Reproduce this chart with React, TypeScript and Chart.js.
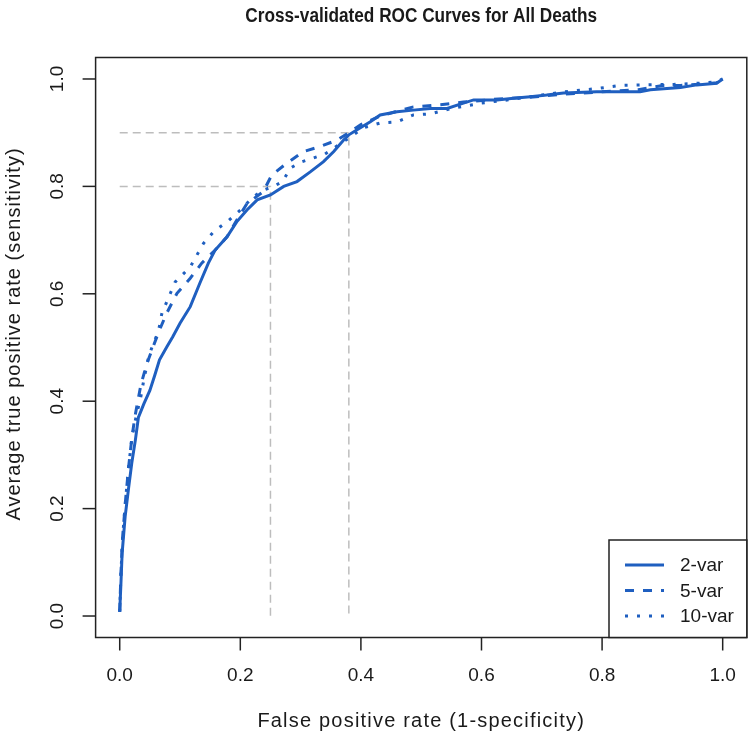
import { useEffect, useRef } from "react";
import { Chart, registerables } from "chart.js";

Chart.register(...registerables);

const chartTitle = "Cross-validated ROC Curves for All Deaths";
const xAxisTitle = "False positive rate (1-specificity)";
const yAxisTitle = "Average true positive rate (sensitivity)";
const tickValues = [0, 0.2, 0.4, 0.6, 0.8, 1.0];
const tickLabels = ["0.0", "0.2", "0.4", "0.6", "0.8", "1.0"];
const seriesNames = ["2-var", "5-var", "10-var"];

const fpr2 = [0, 0.002, 0.004, 0.009, 0.015, 0.02, 0.026, 0.031, 0.04, 0.05, 0.058, 0.066, 0.078, 0.088, 0.1, 0.117, 0.133, 0.147, 0.158, 0.178, 0.194, 0.211, 0.228, 0.25, 0.272, 0.294, 0.316, 0.338, 0.355, 0.371, 0.38, 0.393, 0.415, 0.432, 0.46, 0.487, 0.515, 0.543, 0.57, 0.587, 0.626, 0.653, 0.681, 0.708, 0.736, 0.791, 0.863, 0.88, 0.93, 0.957, 0.99, 1.0];
const tpr2 = [0.008, 0.06, 0.117, 0.185, 0.241, 0.285, 0.328, 0.37, 0.395, 0.42, 0.448, 0.477, 0.501, 0.52, 0.545, 0.576, 0.62, 0.657, 0.681, 0.706, 0.734, 0.756, 0.775, 0.784, 0.8, 0.809, 0.827, 0.846, 0.865, 0.886, 0.896, 0.905, 0.92, 0.933, 0.939, 0.942, 0.945, 0.945, 0.955, 0.961, 0.961, 0.964, 0.967, 0.97, 0.974, 0.976, 0.976, 0.98, 0.984, 0.989, 0.992, 1.0];

const fpr5 = [0, 0.002, 0.005, 0.01, 0.015, 0.02, 0.025, 0.03, 0.035, 0.045, 0.055, 0.065, 0.078, 0.095, 0.117, 0.136, 0.158, 0.178, 0.194, 0.211, 0.238, 0.252, 0.277, 0.305, 0.332, 0.36, 0.38, 0.4, 0.43, 0.46, 0.487, 0.532, 0.57, 0.62, 0.68, 0.74, 0.8, 0.86, 0.9, 0.93, 0.96, 0.99, 1.0];
const tpr5 = [0.008, 0.08, 0.15, 0.22, 0.28, 0.33, 0.37, 0.4, 0.43, 0.47, 0.5, 0.53, 0.564, 0.601, 0.629, 0.657, 0.681, 0.706, 0.737, 0.768, 0.79, 0.821, 0.843, 0.865, 0.874, 0.886, 0.9, 0.915, 0.93, 0.94, 0.948, 0.952, 0.957, 0.962, 0.966, 0.972, 0.976, 0.98, 0.988, 0.988, 0.99, 0.993, 1.0];

const fpr10 = [0, 0.002, 0.005, 0.01, 0.015, 0.02, 0.025, 0.03, 0.034, 0.04, 0.048, 0.056, 0.064, 0.07, 0.078, 0.084, 0.092, 0.117, 0.139, 0.156, 0.178, 0.2, 0.222, 0.238, 0.255, 0.27, 0.283, 0.3, 0.34, 0.38, 0.404, 0.432, 0.46, 0.487, 0.515, 0.55, 0.6, 0.65, 0.7, 0.736, 0.791, 0.83, 0.874, 0.92, 0.96, 0.99, 1.0];
const tpr10 = [0.008, 0.08, 0.15, 0.22, 0.28, 0.33, 0.36, 0.385, 0.402, 0.44, 0.483, 0.508, 0.529, 0.564, 0.585, 0.601, 0.622, 0.65, 0.694, 0.716, 0.734, 0.756, 0.781, 0.793, 0.8, 0.809, 0.834, 0.845, 0.86, 0.89, 0.909, 0.918, 0.92, 0.933, 0.935, 0.945, 0.955, 0.962, 0.97, 0.976, 0.982, 0.988, 0.989, 0.99, 0.992, 0.995, 1.0];

const refFpr = [0.25, 0.38];
const refTpr = [0.8, 0.9];

const BLUE = "#1f5fc0";
const FONT = '"Liberation Sans", Arial, sans-serif';
const dashes = [[], [9, 9], [3, 9]];

const toPoints = (xs: number[], ys: number[]) => xs.map((x, i) => ({ x, y: ys[i] }));

export default function App() {
  const ref = useRef<HTMLCanvasElement | null>(null);

  useEffect(() => {
    document.body.style.margin = "0";
    const canvas = ref.current;
    if (!canvas) return;

    const decor = {
      id: "rDecor",
      afterDraw(chart: any) {
        const ctx = chart.ctx;
        const xs = chart.scales.x;
        const ys = chart.scales.y;
        const a = chart.chartArea;
        ctx.save();
        ctx.strokeStyle = "#222";
        ctx.fillStyle = "#1a1a1a";
        ctx.lineWidth = 1.5;
        ctx.setLineDash([]);
        ctx.strokeRect(a.left, a.top, a.right - a.left, a.bottom - a.top);
        ctx.font = `19px ${FONT}`;
        ctx.textAlign = "center";
        ctx.textBaseline = "middle";
        tickValues.forEach((v, i) => {
          const px = xs.getPixelForValue(v);
          ctx.beginPath();
          ctx.moveTo(px, a.bottom);
          ctx.lineTo(px, a.bottom + 13);
          ctx.stroke();
          ctx.fillText(tickLabels[i], px, a.bottom + 38);
        });
        tickValues.forEach((v, i) => {
          const py = ys.getPixelForValue(v);
          ctx.beginPath();
          ctx.moveTo(a.left, py);
          ctx.lineTo(a.left - 13, py);
          ctx.stroke();
          ctx.save();
          ctx.translate(a.left - 38, py);
          ctx.rotate(-Math.PI / 2);
          ctx.fillText(tickLabels[i], 0, 0);
          ctx.restore();
        });
        const cx = (a.left + a.right) / 2;
        ctx.font = `20px ${FONT}`;
        if ("letterSpacing" in ctx) (ctx as any).letterSpacing = "1.2px";
        ctx.fillText(xAxisTitle, cx, a.bottom + 84);
        if ("letterSpacing" in ctx) (ctx as any).letterSpacing = "1px";
        ctx.save();
        ctx.translate(a.left - 81, 334);
        ctx.rotate(-Math.PI / 2);
        ctx.fillText(yAxisTitle, 0, 0);
        ctx.restore();
        if ("letterSpacing" in ctx) (ctx as any).letterSpacing = "0px";
        ctx.save();
        ctx.font = `bold 20px ${FONT}`;
        ctx.translate(cx, 16);
        ctx.scale(0.86, 1);
        ctx.fillText(chartTitle, 0, 0);
        ctx.restore();
        const lx = 609, ly = 540, lw = a.right - 609, lh = a.bottom - 540;
        ctx.fillStyle = "#ffffff";
        ctx.fillRect(lx, ly, lw, lh);
        ctx.strokeStyle = "#222";
        ctx.lineWidth = 1.5;
        ctx.strokeRect(lx, ly, lw, lh);
        ctx.font = `19px ${FONT}`;
        ctx.textAlign = "left";
        seriesNames.forEach((name, i) => {
          const y = 565 + i * 25.5;
          ctx.strokeStyle = BLUE;
          ctx.lineWidth = 3;
          ctx.setLineDash(dashes[i]);
          ctx.beginPath();
          ctx.moveTo(625, y);
          ctx.lineTo(664, y);
          ctx.stroke();
          ctx.setLineDash([]);
          ctx.fillStyle = "#1a1a1a";
          ctx.fillText(name, 680, y + 1);
        });
        ctx.restore();
      },
    };

    const refSets = refFpr.map((f, i) => ({
      label: `ref${i}`,
      data: toPoints([0, f, f], [refTpr[i], refTpr[i], 0]),
      borderColor: "#bdbdbd",
      borderWidth: 1.5,
      borderDash: [8, 5],
      pointRadius: 0,
      showLine: true,
      fill: false,
      order: 10,
    }));

    const curves = [
      [fpr2, tpr2],
      [fpr5, tpr5],
      [fpr10, tpr10],
    ].map(([xs, ys], i) => ({
      label: seriesNames[i],
      data: toPoints(xs, ys),
      borderColor: BLUE,
      borderWidth: 3,
      borderDash: dashes[i],
      pointRadius: 0,
      showLine: true,
      fill: false,
      tension: 0,
      order: i + 1,
    }));

    const chart = new Chart(canvas, {
      type: "scatter",
      data: { datasets: [...refSets, ...curves] as any },
      options: {
        animation: false,
        responsive: false,
        maintainAspectRatio: false,
        layout: { padding: { left: 95.6, right: 3.2, top: 57.5, bottom: 100.5 } },
        plugins: { legend: { display: false }, tooltip: { enabled: false }, title: { display: false } },
        scales: {
          x: { type: "linear", min: -0.04, max: 1.04, display: false },
          y: { type: "linear", min: -0.04, max: 1.04, display: false },
        },
      },
      plugins: [decor],
    });
    return () => chart.destroy();
  }, []);

  return <canvas ref={ref} width={750} height={738} style={{ display: "block", width: 750, height: 738 }} />;
}
